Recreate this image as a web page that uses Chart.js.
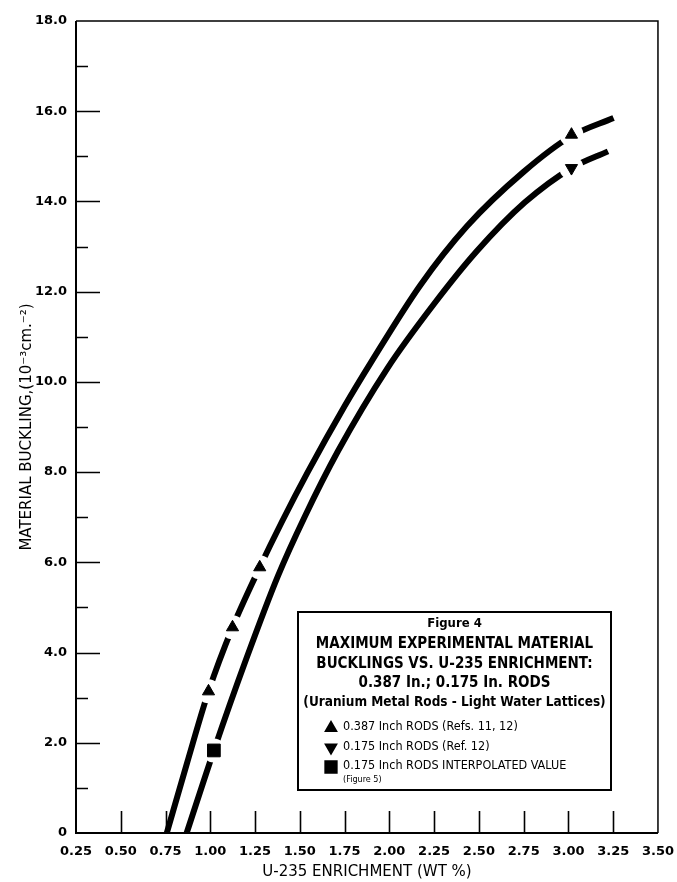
<!DOCTYPE html>
<html>
<head>
<meta charset="utf-8">
<script src="https://cdn.jsdelivr.net/npm/chart.js@4.4.1/dist/chart.umd.min.js"></script>
<style>
  html, body { margin: 0; padding: 0; background: #fff; }
</style>
</head>
<body>
<canvas id="chart" width="677" height="882"></canvas>
<script>
// axis ticks
const xTicks = [0.25, 0.5, 0.75, 1.0, 1.25, 1.5, 1.75, 2.0, 2.25, 2.5, 2.75, 3.0, 3.25, 3.5];
const xTickLabels = ['0.25', '0.50', '0.75', '1.00', '1.25', '1.50', '1.75', '2.00', '2.25', '2.50', '2.75', '3.00', '3.25', '3.50'];
const yTicks = [0, 2, 4, 6, 8, 10, 12, 14, 16, 18];
const yTickLabels = ['0', '2.0', '4.0', '6.0', '8.0', '10.0', '12.0', '14.0', '16.0', '18.0'];
const yMinorTicks = [1, 3, 5, 7, 9, 11, 13, 15, 17];

// curve through the 0.387 in. rod data
const rods387X = [0.757, 0.87, 0.99, 1.124, 1.276, 1.4, 1.544, 1.748, 1.9, 2.174, 2.433, 2.748, 3.017, 3.252];
const rods387Y = [0, 1.55, 3.14, 4.56, 5.89, 6.9, 8.0, 9.45, 10.45, 12.15, 13.45, 14.65, 15.45, 15.85];
// curve through the 0.175 in. rod data
const rods175X = [0.868, 1.02, 1.2, 1.378, 1.526, 1.711, 1.989, 2.248, 2.489, 2.757, 3.017, 3.221];
const rods175Y = [0, 1.83, 3.85, 5.7, 7.0, 8.45, 10.3, 11.72, 12.9, 13.98, 14.74, 15.11];

// measured / interpolated points
const refs387X = [0.99, 1.124, 1.276, 3.017];
const refs387Y = [3.14, 4.56, 5.89, 15.48];
const ref175X = [3.017];
const ref175Y = [14.74];
const interp175X = [1.02];
const interp175Y = [1.83];

const pts = (xs, ys) => xs.map((x, i) => ({ x: x, y: ys[i] }));

const legendItems = [
  { style: 'triangle', rotation: 0, radius: 6, text: '0.387 Inch RODS (Refs. 11, 12)' },
  { style: 'triangle', rotation: 180, radius: 6, text: '0.175 Inch RODS (Ref. 12)' },
  { style: 'rect', radius: 8, rotation: 0, text: '0.175 Inch RODS INTERPOLATED VALUE' }
];

const condensed = "'DejaVu Sans Condensed', 'Liberation Sans Narrow', 'DejaVu Sans', sans-serif";

const frameAndTicks = {
  id: 'frameAndTicks',
  afterDatasetsDraw(chart) {
    const { ctx, chartArea: a, scales: { x, y } } = chart;
    ctx.save();
    ctx.strokeStyle = '#000';
    ctx.lineWidth = 2;
    ctx.beginPath();
    ctx.moveTo(a.left, a.top);
    ctx.lineTo(a.left, a.bottom);
    ctx.lineTo(a.right, a.bottom);
    ctx.stroke();
    ctx.lineWidth = 1.5;
    ctx.beginPath();
    ctx.moveTo(a.left, a.top);
    ctx.lineTo(a.right, a.top);
    ctx.lineTo(a.right, a.bottom);
    ctx.stroke();
    ctx.lineWidth = 1.6;
    ctx.beginPath();
    yTicks.slice(1, -1).forEach(v => {
      const py = Math.round(y.getPixelForValue(v)) + 0.5;
      ctx.moveTo(a.left, py);
      ctx.lineTo(a.left + 24, py);
    });
    yMinorTicks.forEach(v => {
      const py = Math.round(y.getPixelForValue(v)) + 0.5;
      ctx.moveTo(a.left, py);
      ctx.lineTo(a.left + 12, py);
    });
    xTicks.slice(1, -1).forEach(v => {
      const px = Math.round(x.getPixelForValue(v)) + 0.5;
      ctx.moveTo(px, a.bottom);
      ctx.lineTo(px, a.bottom - 22);
    });
    ctx.stroke();
    ctx.restore();
  },
  afterDraw(chart) {
    const ctx = chart.ctx;
    const bx = 298, by = 612, bw = 313, bh = 178;
    const cx = bx + bw / 2;
    ctx.save();
    ctx.fillStyle = '#fff';
    ctx.fillRect(bx, by, bw, bh);
    ctx.strokeStyle = '#000';
    ctx.lineWidth = 2;
    ctx.strokeRect(bx, by, bw, bh);
    ctx.fillStyle = '#000';
    ctx.textAlign = 'center';
    ctx.textBaseline = 'middle';
    ctx.font = 'bold 13px ' + condensed;
    ctx.fillText('Figure 4', cx, 624);
    ctx.font = 'bold 15px ' + condensed;
    ctx.fillText('MAXIMUM EXPERIMENTAL MATERIAL', cx, 644);
    ctx.fillText('BUCKLINGS VS. U-235 ENRICHMENT:', cx, 664);
    ctx.fillText('0.387 In.; 0.175 In. RODS', cx, 683);
    ctx.font = 'bold 13.5px ' + condensed;
    ctx.fillText('(Uranium Metal Rods - Light Water Lattices)', cx, 702);
    ctx.textAlign = 'left';
    ctx.font = '12.5px ' + condensed;
    legendItems.forEach((it, i) => {
      const ly = 727 + i * 19.5;
      Chart.helpers.drawPoint(ctx, { pointStyle: it.style, radius: it.radius, rotation: it.rotation, borderWidth: 1 }, 331, ly + 1);
      ctx.fillText(it.text, 343, ly);
    });
    ctx.font = '9px ' + condensed;
    ctx.fillText('(Figure 5)', 343, 780);
    ctx.restore();
  }
};

const markerBase = { showLine: false, pointBackgroundColor: '#000', pointBorderColor: '#000', pointBorderWidth: 1 };

new Chart(document.getElementById('chart'), {
  type: 'line',
  data: {
    datasets: [
      {
        label: '0.387 in. rods',
        data: pts(rods387X, rods387Y),
        borderColor: '#000', borderWidth: 6, pointRadius: 0,
        cubicInterpolationMode: 'monotone', order: 3
      },
      {
        label: '0.175 in. rods',
        data: pts(rods175X, rods175Y),
        borderColor: '#000', borderWidth: 6, pointRadius: 0,
        cubicInterpolationMode: 'monotone', order: 3
      },
      {
        label: 'gaps',
        data: pts(refs387X.concat(ref175X, interp175X), refs387Y.concat(ref175Y, interp175Y)),
        showLine: false, pointRadius: 12, pointBackgroundColor: '#fff', pointBorderWidth: 0,
        pointStyle: 'circle', order: 2
      },
      Object.assign({
        label: '0.387 Inch RODS (Refs. 11, 12)',
        data: pts(refs387X, refs387Y),
        pointStyle: 'triangle', pointRadius: 7, order: 1
      }, markerBase),
      Object.assign({
        label: '0.175 Inch RODS (Ref. 12)',
        data: pts(ref175X, ref175Y),
        pointStyle: 'triangle', pointRotation: 180, pointRadius: 7, order: 1
      }, markerBase),
      Object.assign({
        label: '0.175 Inch RODS INTERPOLATED VALUE',
        data: pts(interp175X, interp175Y),
        pointStyle: 'rect', pointRadius: 9, order: 1
      }, markerBase)
    ]
  },
  options: {
    responsive: false,
    animation: false,
    layout: { padding: { top: 21, right: 2, left: 0, bottom: 0 } },
    plugins: { legend: { display: false }, tooltip: { enabled: false } },
    scales: {
      x: {
        type: 'linear',
        min: 0.25, max: 3.5,
        afterBuildTicks: s => { s.ticks = xTicks.map(v => ({ value: v })); },
        afterFit: s => { s.height = 49; },
        grid: { display: false },
        border: { display: false },
        ticks: {
          autoSkip: false, maxRotation: 0, padding: 3,
          color: '#000',
          font: { family: 'DejaVu Sans', size: 13, weight: 'bold' },
          callback: (v, i) => xTickLabels[i]
        },
        title: {
          display: true, text: 'U-235 ENRICHMENT (WT %)', color: '#000',
          font: { family: 'DejaVu Sans', size: 15 },
          padding: { top: 0, bottom: 1 }
        }
      },
      y: {
        type: 'linear',
        min: 0, max: 18,
        afterBuildTicks: s => { s.ticks = yTicks.map(v => ({ value: v })); },
        afterFit: s => { s.width = 76; },
        grid: { display: false },
        border: { display: false },
        ticks: {
          autoSkip: false, padding: 1,
          color: '#000',
          font: { family: 'DejaVu Sans', size: 13, weight: 'bold' },
          callback: (v, i) => yTickLabels[i]
        },
        title: {
          display: true, text: 'MATERIAL BUCKLING,(10\u207B\u00B3cm.\u207B\u00B2)', color: '#000',
          font: { family: 'DejaVu Sans', size: 15 },
          padding: { top: 18, bottom: 0 }
        }
      }
    }
  },
  plugins: [frameAndTicks]
});
</script>
</body>
</html>
